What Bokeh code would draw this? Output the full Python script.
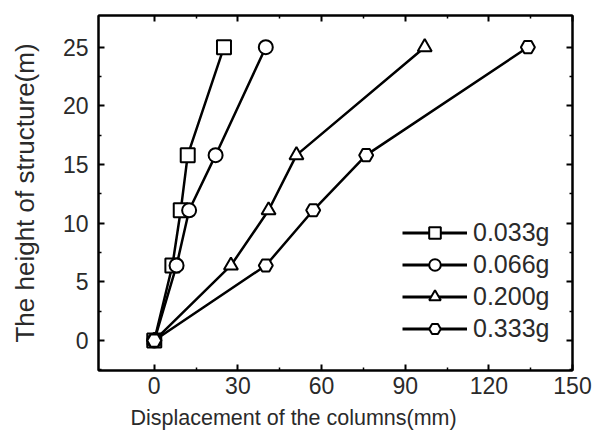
from bokeh.plotting import figure
from bokeh.models import LinearAxis, Range1d, FixedTicker, Legend, LegendItem, ColumnDataSource, Title
from bokeh.embed import file_html
from bokeh.resources import INLINE

# storey heights (m) and column displacement (mm) for each PGA level
heights = [0, 6.4, 11.1, 15.8, 25.0]
disp_0033 = [0, 6.5, 9.5, 12.0, 25.0]
disp_0066 = [0, 8.0, 12.5, 22.0, 40.0]
disp_0200 = [0, 27.5, 41.0, 51.0, 97.0]
disp_0333 = [0, 40.0, 57.0, 76.0, 134.0]
labels = ["0.033g", "0.066g", "0.200g", "0.333g"]
markers = ["square", "circle", "triangle", "hex"]
x_ticks = [0, 30, 60, 90, 120, 150]
y_ticks = [0, 5, 10, 15, 20, 25]

FONT = "Liberation Sans"
TXT = "#2a2a2a"

p = figure(width=594, height=437, output_backend="svg", toolbar_location=None,
           x_range=Range1d(-20, 150), y_range=Range1d(-2.55, 27.7),
           min_border_left=98, min_border_right=22, min_border_top=15,
           min_border_bottom=67)
p.grid.visible = False
p.outline_line_color = "black"
p.outline_line_width = 2
p.background_fill_color = "white"
p.border_fill_color = "white"


def style_axis(ax, ticks, minor, show_labels=True):
    ax.ticker = FixedTicker(ticks=ticks, minor_ticks=minor)
    ax.axis_line_color = "black"
    ax.axis_line_width = 2
    ax.major_tick_in = 6
    ax.major_tick_out = 0
    ax.minor_tick_in = 3
    ax.minor_tick_out = 0
    ax.major_tick_line_width = 2
    ax.minor_tick_line_width = 1.5
    ax.major_label_text_font = FONT
    ax.major_label_text_color = TXT
    if show_labels:
        ax.major_label_text_font_size = "23px"
        ax.major_label_standoff = 6
    else:
        ax.major_label_text_font_size = "0px"
        ax.major_label_standoff = 0


x_minor = [v + 15 for v in x_ticks[:-1]]
y_minor = [v + 2.5 for v in y_ticks[:-1]] + [-2.5]

style_axis(p.xaxis[0], x_ticks, x_minor)
style_axis(p.yaxis[0], y_ticks, y_minor)
p.yaxis.major_label_standoff = 10
p.yaxis.axis_label = "The height of structure(m)"
p.yaxis.axis_label_text_font = FONT
p.yaxis.axis_label_text_font_style = "normal"
p.yaxis.axis_label_text_color = TXT
p.yaxis.axis_label_text_font_size = "26px"
p.yaxis.axis_label_standoff = 20

# x title, set a little left of the frame centre
p.add_layout(Title(text="Displacement of the columns(mm)", align="left", offset=32,
                   text_font=FONT, text_font_size="21.5px", text_font_style="normal",
                   text_color=TXT, standoff=14), "below")

top = LinearAxis()
style_axis(top, x_ticks, x_minor, show_labels=False)
p.add_layout(top, "above")
right = LinearAxis()
style_axis(right, y_ticks, y_minor, show_labels=False)
p.add_layout(right, "right")

items = []
for xs, lab, mk in zip([disp_0033, disp_0066, disp_0200, disp_0333], labels, markers):
    p.line(xs, heights, line_color="black", line_width=2.5)
    p.scatter(xs, heights, marker=mk, size=14, fill_color="white",
              line_color="black", line_width=2)
    # off-canvas renderers give the legend its own, smaller key glyphs
    key = ColumnDataSource(data=dict(x=[float("nan")], y=[float("nan")]))
    kl = p.line("x", "y", source=key, line_color="black", line_width=3)
    km = p.scatter("x", "y", source=key, marker=mk, size=11, fill_color="white",
                   line_color="black", line_width=2)
    items.append(LegendItem(label=lab, renderers=[kl, km]))

legend = Legend(items=items, location=(304, 27), orientation="vertical")
legend.border_line_color = None
legend.background_fill_alpha = 0
legend.padding = 0
legend.margin = 0
legend.spacing = 3
legend.glyph_width = 65
legend.glyph_height = 29
legend.label_height = 29
legend.label_standoff = 6
legend.label_text_font = FONT
legend.label_text_font_size = "25px"
legend.label_text_color = TXT
p.add_layout(legend, "center")

open("out.html", "w").write(file_html(p, INLINE))
